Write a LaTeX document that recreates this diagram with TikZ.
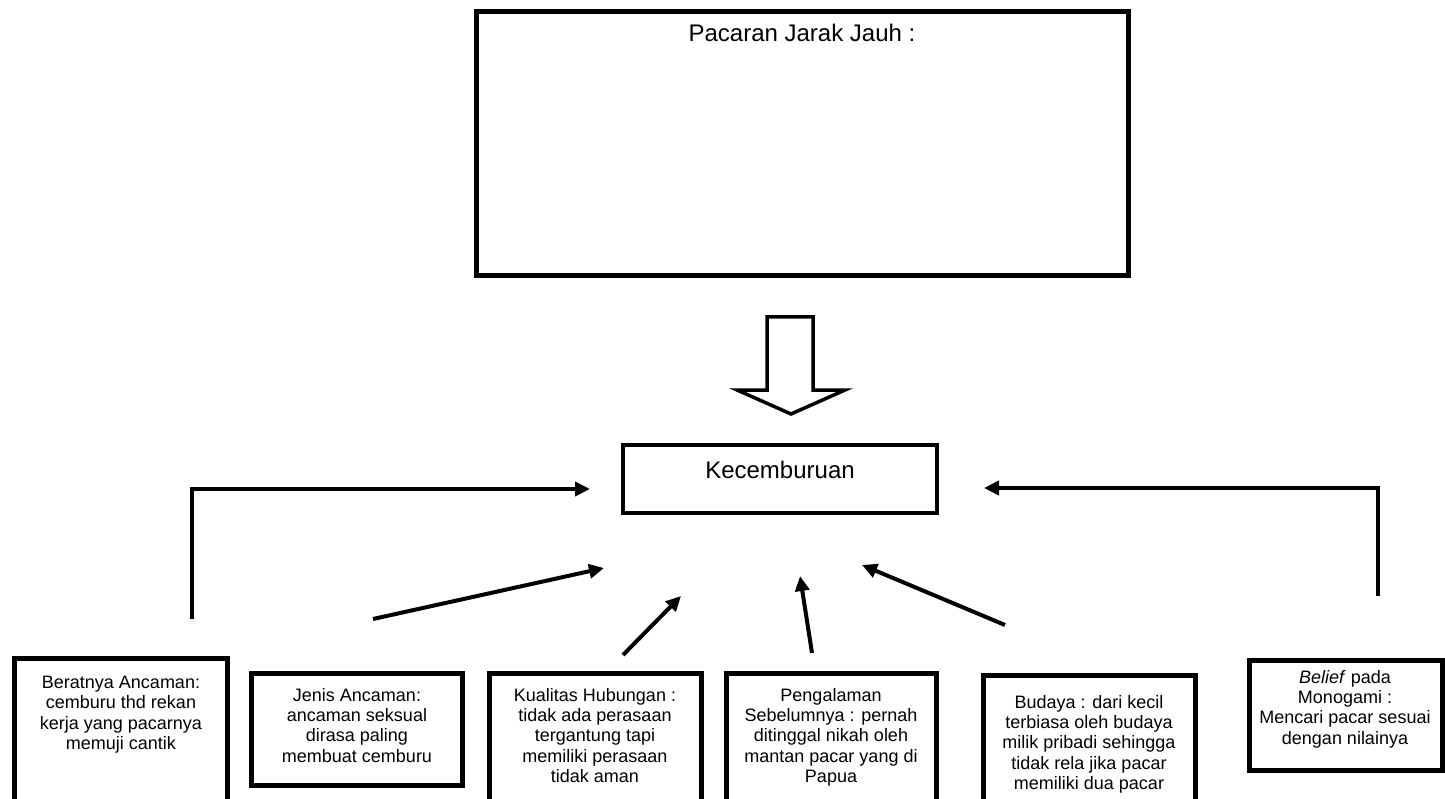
\documentclass[tikz,border=0pt]{standalone}
\usepackage{fontspec}
\setmainfont{Liberation Sans}
\usetikzlibrary{arrows.meta}
\begin{document}
\begin{tikzpicture}[x=1pt,y=-1pt,
  frame/.style={draw=black, line width=5pt, inner sep=0pt, outer sep=0pt, anchor=north west},
  midframe/.style={draw=black, line width=4pt, inner sep=0pt, outer sep=0pt, anchor=north west},
  bigtext/.style={font=\fontsize{24}{28}\selectfont, inner sep=0pt},
  smalltext/.style={font=\fontsize{18}{20.3}\selectfont, align=center, inner sep=0pt, anchor=north},
  conn/.style={line width=4pt, -{Triangle[length=15pt,width=14pt]}},
  blockarrow/.style={draw=black, line width=3.5pt, line join=miter, fill=white}
]
\useasboundingbox (0,0) rectangle (1445,799);

% top box
\node[frame, minimum width=652, minimum height=264] (top) at (476,12) {};
\node[bigtext] (toptxt) at (802,33) {Pacaran Jarak Jauh :};

% central box
\node[midframe, minimum width=314, minimum height=68] (kec) at (623,445) {};
\node[bigtext] (kectxt) at (780,470) {Kecemburuan};

% block arrow from top box to central box
\coordinate (ba) at (790,317);
\draw[blockarrow] (767,317) -- (813,317) -- (813,390) -- (845,390) -- (791,414) -- (737,390) -- (767,390) -- cycle;

% bottom boxes
\node[frame, minimum width=213, minimum height=160] (b1) at (14,658) {};
\node[smalltext] (t1) at (121,676) {Beratnya Ancaman:\\cemburu thd rekan\\kerja yang pacarnya\\memuji cantik};

\node[frame, minimum width=211, minimum height=112] (b2) at (251,673) {};
\node[smalltext] (t2) at (357,688) {Jenis Ancaman:\\ancaman seksual\\dirasa paling\\membuat cemburu};

\node[frame, minimum width=212, minimum height=150] (b3) at (489,673) {};
\node[smalltext] (t3) at (595,688) {Kualitas Hubungan :\\tidak ada perasaan\\tergantung tapi\\memiliki perasaan\\tidak aman};

\node[frame, minimum width=210, minimum height=150] (b4) at (726,673) {};
\node[smalltext] (t4) at (831,688) {Pengalaman\\Sebelumnya : pernah\\ditinggal nikah oleh\\mantan pacar yang di\\Papua};

\node[frame, minimum width=212, minimum height=150] (b5) at (983,675) {};
\node[smalltext] (t5) at (1089,695) {Budaya : dari kecil\\terbiasa oleh budaya\\milik pribadi sehingga\\tidak rela jika pacar\\memiliki dua pacar};

\node[frame, minimum width=193, minimum height=110] (b6) at (1249,660) {};
\node[smalltext] (t6) at (1345,670) {\textit{Belief} pada\\Monogami :\\Mencari pacar sesuai\\dengan nilainya};

% connector end points
\coordinate (s1) at (192,619);
\coordinate (c1) at (192,489);
\coordinate (e1) at (590,489);
\coordinate (s2) at (373,619);
\coordinate (e2) at (604,568);
\coordinate (s3) at (623,655);
\coordinate (e3) at (681,596);
\coordinate (s4) at (812,653);
\coordinate (e4) at (800,576);
\coordinate (s5) at (1005,625);
\coordinate (e5) at (862,565);
\coordinate (s6) at (1378,596);
\coordinate (c6) at (1378,488);
\coordinate (e6) at (984,488);

\draw[conn] (s1) -- (c1) -- (e1);
\draw[conn] (s2) -- (e2);
\draw[conn] (s3) -- (e3);
\draw[conn] (s4) -- (e4);
\draw[conn] (s5) -- (e5);
\draw[conn] (s6) -- (c6) -- (e6);
\end{tikzpicture}
\end{document}
